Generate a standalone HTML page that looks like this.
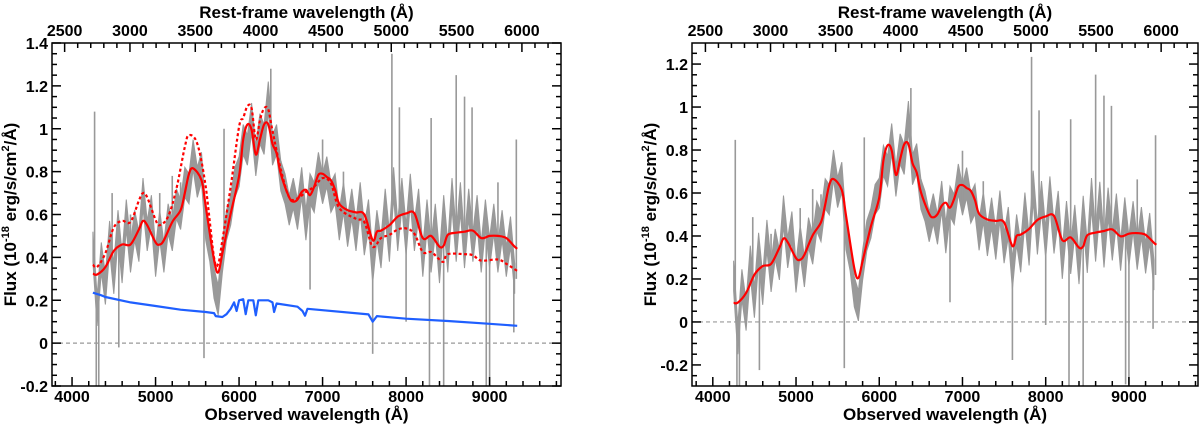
<!DOCTYPE html>
<html><head><meta charset="utf-8"><style>
html,body{margin:0;padding:0;background:#fff;}
svg{display:block;font-family:"Liberation Sans",Arial,sans-serif;font-weight:bold;}
</style></head><body>
<svg id="chart" width="1200" height="425" viewBox="0 0 1200 425" xmlns="http://www.w3.org/2000/svg"></svg>
<script>
// ---- data ----
const z = 0.5645;
const grayStart = 4250;
const grayStep = 50;
const grayFlux = [0.45,0.15,0.40,0.25,0.50,0.30,0.55,0.35,0.60,0.40,0.55,0.45,0.70,0.50,0.62,0.38,0.55,0.40,0.58,0.50,
0.65,0.60,0.75,0.72,0.88,0.75,0.82,0.55,0.45,0.28,0.20,0.40,0.55,0.62,0.75,0.80,0.95,0.90,1.05,0.85,
1.0,0.95,1.15,0.90,0.95,0.78,0.72,0.62,0.70,0.60,0.75,0.55,0.72,0.68,0.82,0.72,0.80,0.68,0.72,0.55,
0.68,0.52,0.65,0.50,0.68,0.48,0.60,0.35,0.55,0.42,0.65,0.45,0.75,0.50,0.70,0.48,0.72,0.50,0.65,0.38,
0.60,0.40,0.58,0.35,0.62,0.40,0.70,0.45,0.68,0.42,0.65,0.45,0.62,0.40,0.60,0.42,0.58,0.40,0.55,0.38,
0.52,0.30];
const grayErr = 0.07;
const spikeWave = [4270,4290,4320,4480,4560,4700,5050,5200,5300,5580,5820,6380,6500,6850,7000,7250,7600,7830,7920,8000,8280,8300,8450,8600,8700,8790,8960,9000,9100,9290,9320];
const spikeFlux = [1.08,-0.2,-0.2,0.70,-0.02,0.60,0.70,0.78,0.75,-0.07,1.0,1.28,0.85,0.25,0.95,0.80,-0.05,1.35,1.1,0.1,-0.2,1.05,-0.2,1.25,1.15,1.1,-0.2,-0.2,0.75,0.05,0.95];
const redWave = [4250,4300,4400,4500,4600,4700,4800,4850,4900,5000,5050,5100,5200,5300,5350,5400,5450,5550,5600,5700,5750,5800,5900,6000,6050,6100,6150,6200,6250,6300,6350,6400,6450,6500,6600,6650,6700,6750,6800,6850,6900,6950,7000,7050,7100,7150,7200,7300,7400,7500,7600,7650,7700,7800,7900,8000,8100,8200,8300,8400,8450,8500,8600,8700,8800,8900,9000,9100,9200,9300,9330];
const redFlux = [0.324,0.32,0.355,0.43,0.46,0.46,0.53,0.57,0.55,0.47,0.46,0.48,0.565,0.62,0.70,0.79,0.815,0.76,0.64,0.39,0.33,0.42,0.605,0.78,0.95,1.02,0.995,0.88,0.95,1.02,1.02,0.93,0.885,0.79,0.68,0.66,0.67,0.705,0.715,0.69,0.73,0.785,0.79,0.775,0.76,0.715,0.65,0.62,0.61,0.60,0.48,0.52,0.525,0.55,0.59,0.605,0.605,0.49,0.50,0.45,0.455,0.505,0.515,0.52,0.525,0.49,0.50,0.50,0.49,0.45,0.44];
const dashWave = [4250,4300,4400,4500,4600,4700,4800,4850,4900,5000,5050,5150,5250,5350,5400,5500,5600,5700,5750,5800,5900,6000,6050,6100,6150,6200,6250,6300,6350,6400,6500,6600,6700,6800,6900,7000,7100,7200,7400,7500,7600,7700,7800,7900,8000,8100,8200,8300,8400,8450,8500,8700,8800,8900,9100,9200,9330];
const dashFlux = [0.366,0.355,0.42,0.54,0.57,0.565,0.665,0.70,0.68,0.575,0.55,0.59,0.72,0.915,0.97,0.93,0.73,0.40,0.37,0.48,0.73,1.01,1.05,1.105,1.095,0.95,1.04,1.095,1.09,0.99,0.81,0.68,0.675,0.705,0.73,0.77,0.745,0.63,0.58,0.565,0.45,0.49,0.505,0.53,0.535,0.51,0.425,0.425,0.39,0.38,0.415,0.415,0.41,0.385,0.39,0.37,0.337];
const blueWave = [4250,4350,4400,4700,5000,5300,5600,5700,5720,5800,5850,5900,5940,5970,6000,6050,6080,6110,6170,6200,6230,6350,6400,6420,6450,6700,6760,6790,6820,7550,7600,7650,8000,8500,9000,9330];
const blueFlux = [0.235,0.223,0.215,0.19,0.173,0.156,0.145,0.14,0.126,0.122,0.135,0.16,0.19,0.15,0.2,0.205,0.135,0.2,0.2,0.13,0.2,0.2,0.19,0.145,0.185,0.17,0.15,0.128,0.16,0.134,0.1,0.126,0.114,0.103,0.09,0.081];
const contWave = [4250,4700,5300,5700,5750,5900,6000,6450,6800,7580,7620,8000,9330];
const contFlux = [0.235,0.19,0.156,0.14,0.125,0.16,0.2,0.19,0.16,0.134,0.12,0.114,0.081];
const leftYTicks = [1.4,1.2,1,0.8,0.6,0.4,0.2,0,-0.2];
const leftYLabels = ["1.4","1.2","1","0.8","0.6","0.4","0.2","0","-0.2"];
const rightYTicks = [1.2,1,0.8,0.6,0.4,0.2,0,-0.2];
const rightYLabels = ["1.2","1","0.8","0.6","0.4","0.2","0","-0.2"];
const obsTicks = [4000,5000,6000,7000,8000,9000];
const restTicks = [2500,3000,3500,4000,4500,5000,5500,6000];

// ---- helpers ----
const NS = "http://www.w3.org/2000/svg";
const svg = document.getElementById('chart');
function mk(tag, attrs, parent){ const e=document.createElementNS(NS,tag); for(const k in attrs) e.setAttribute(k,attrs[k]); (parent||svg).appendChild(e); return e; }
function interp(ws, fs, w){ if(w<=ws[0]) return fs[0]; for(let i=1;i<ws.length;i++){ if(w<=ws[i]){ const t=(w-ws[i-1])/(ws[i]-ws[i-1]); return fs[i-1]+t*(fs[i]-fs[i-1]); } } return fs[fs.length-1]; }
function smoothPath(pts){
  let d='M'+pts[0][0].toFixed(1)+','+pts[0][1].toFixed(1);
  for(let i=0;i<pts.length-1;i++){
    const p0=pts[Math.max(0,i-1)],p1=pts[i],p2=pts[i+1],p3=pts[Math.min(pts.length-1,i+2)];
    const c1=[p1[0]+(p2[0]-p0[0])/6,p1[1]+(p2[1]-p0[1])/6];
    const c2=[p2[0]-(p3[0]-p1[0])/6,p2[1]-(p3[1]-p1[1])/6];
    d+=' C'+c1[0].toFixed(1)+','+c1[1].toFixed(1)+' '+c2[0].toFixed(1)+','+c2[1].toFixed(1)+' '+p2[0].toFixed(1)+','+p2[1].toFixed(1);
  }
  return d;
}
const grayWave = grayFlux.map((_,i)=>grayStart+i*grayStep);

function drawPanel(p){
  const g = mk('g',{});
  
  
  const X = w => p.x0 + (w-p.wmin)/(p.wmax-p.wmin)*(p.x1-p.x0);
  const Y = f => p.y1 - (f-p.fmin)/(p.fmax-p.fmin)*(p.y1-p.y0);
  const sub = p.subtract ? (w=>interp(contWave,contFlux,w)) : (w=>0);
  const cp = mk('clipPath',{id:'clip-'+p.name},g);
  mk('rect',{x:p.x0,y:p.y0,width:p.x1-p.x0,height:p.y1-p.y0},cp);
  const plot = mk('g',{'clip-path':'url(#clip-'+p.name+')'},g);
  let up=[],dn=[];
  grayWave.forEach((w,i)=>{ const f=grayFlux[i]-sub(w); up.push(X(w).toFixed(1)+','+Y(f+grayErr).toFixed(1)); dn.unshift(X(w).toFixed(1)+','+Y(f-grayErr).toFixed(1)); });
  const band = mk('polygon',{points:up.concat(dn).join(' '),fill:'#999',stroke:'#999','stroke-width':1},plot);
  
  
  spikeWave.forEach((w,i)=>{
    const base = interp(grayWave,grayFlux,w)-sub(w);
    const s = mk('line',{x1:X(w),x2:X(w),y1:Y(base),y2:Y(spikeFlux[i]-sub(w)),stroke:'#999','stroke-width':1.6},plot);
    
    
  });
  const zl = mk('line',{x1:p.x0,x2:p.x1,y1:Y(0),y2:Y(0),stroke:'#999','stroke-width':1.2,'stroke-dasharray':'4,3'},g);
  
  
  function line(ws,fs,color,dash,name,smooth){
    const pts = ws.map((w,i)=>[X(w),Y(fs[i]-sub(w))]);
    const a={fill:'none',stroke:color,'stroke-width':2.2,'stroke-linejoin':'round'};
    if(dash) a['stroke-dasharray']=dash;
    let l;
    if(smooth){ a.d=smoothPath(pts); l=mk('path',a,plot); }
    else { a.points=pts.map(q=>q[0].toFixed(1)+','+q[1].toFixed(1)).join(' '); l=mk('polyline',a,plot); }
    
    
  }
  if(p.showBlue) line(blueWave,blueFlux,'#1f5fff',null,'host-galaxy-model',false);
  if(p.showDash) line(dashWave,dashFlux,'#ff0000','3,2.5','alt-model-dashed',true);
  line(redWave,redFlux,'#ff0000',null,'best-fit-model',true);
  const fr = mk('rect',{x:p.x0,y:p.y0,width:p.x1-p.x0,height:p.y1-p.y0,fill:'none',stroke:'#000','stroke-width':1.5},g);
  
  
  const tk = mk('g',{stroke:'#000','stroke-width':1.5},g);
  for(let w=3800; w<=p.wmax; w+=200){ const x=X(w); const maj = w%1000===0; mk('line',{x1:x,x2:x,y1:p.y1,y2:p.y1-(maj?9:5)},tk); }
  obsTicks.forEach(w=>{ const t=mk('text',{x:X(w),y:402,'text-anchor':'middle','font-size':16},g); t.textContent=w;   });
  for(let r=2500; r*(1+z)<=p.wmax; r+=100){ const x=X(r*(1+z)); if(x<p.x0) continue; const maj=r%500===0; mk('line',{x1:x,x2:x,y1:p.y0,y2:p.y0+(maj?9:5)},tk); }
  restTicks.forEach(r=>{ const t=mk('text',{x:X(r*(1+z)),y:36,'text-anchor':'middle','font-size':16},g); t.textContent=r;   });
  for(let k=Math.ceil(p.fmin/0.05); k*0.05<=p.fmax+1e-9; k++){ const f=k*0.05; const y=Y(f); const maj = (k%4===0); mk('line',{x1:p.x0,x2:p.x0+(maj?9:5),y1:y,y2:y},tk); mk('line',{x1:p.x1,x2:p.x1-(maj?9:5),y1:y,y2:y},tk); }
  p.yticks.forEach((f,i)=>{ const t=mk('text',{x:p.x0-4,y:Y(f)+6,'text-anchor':'end','font-size':16},g); t.textContent=p.ylabels[i];   });
  const cx=(p.x0+p.x1)/2;
  const tt = mk('text',{x:cx,y:18,'text-anchor':'middle','font-size':17},g); tt.textContent='Rest-frame wavelength (Å)';
   
  const bt = mk('text',{x:cx,y:420,'text-anchor':'middle','font-size':17},g); bt.textContent='Observed wavelength (Å)';
   
  const yc=(p.y0+p.y1)/2;
  const yt = mk('text',{x:0,y:0,'text-anchor':'middle','font-size':17,transform:`translate(${p.ytx},${yc}) rotate(-90)`},g);
  yt.innerHTML='Flux (10<tspan dy="-7" font-size="11">-18</tspan><tspan dy="7"> erg/s/cm</tspan><tspan dy="-7" font-size="11">2</tspan><tspan dy="7">/Å)</tspan>';
   
}

drawPanel({name:'left-panel',x0:52,x1:561,y0:43,y1:386,wmin:3760,wmax:9855,fmin:-0.2,fmax:1.4,yticks:leftYTicks,ylabels:leftYLabels,subtract:false,showBlue:true,showDash:true,ytx:16});
drawPanel({name:'right-panel',x0:692,x1:1198,y0:43,y1:386,wmin:3750,wmax:9830,fmin:-0.298,fmax:1.298,yticks:rightYTicks,ylabels:rightYLabels,subtract:true,showBlue:false,showDash:false,ytx:656});
</script>
</body></html>
